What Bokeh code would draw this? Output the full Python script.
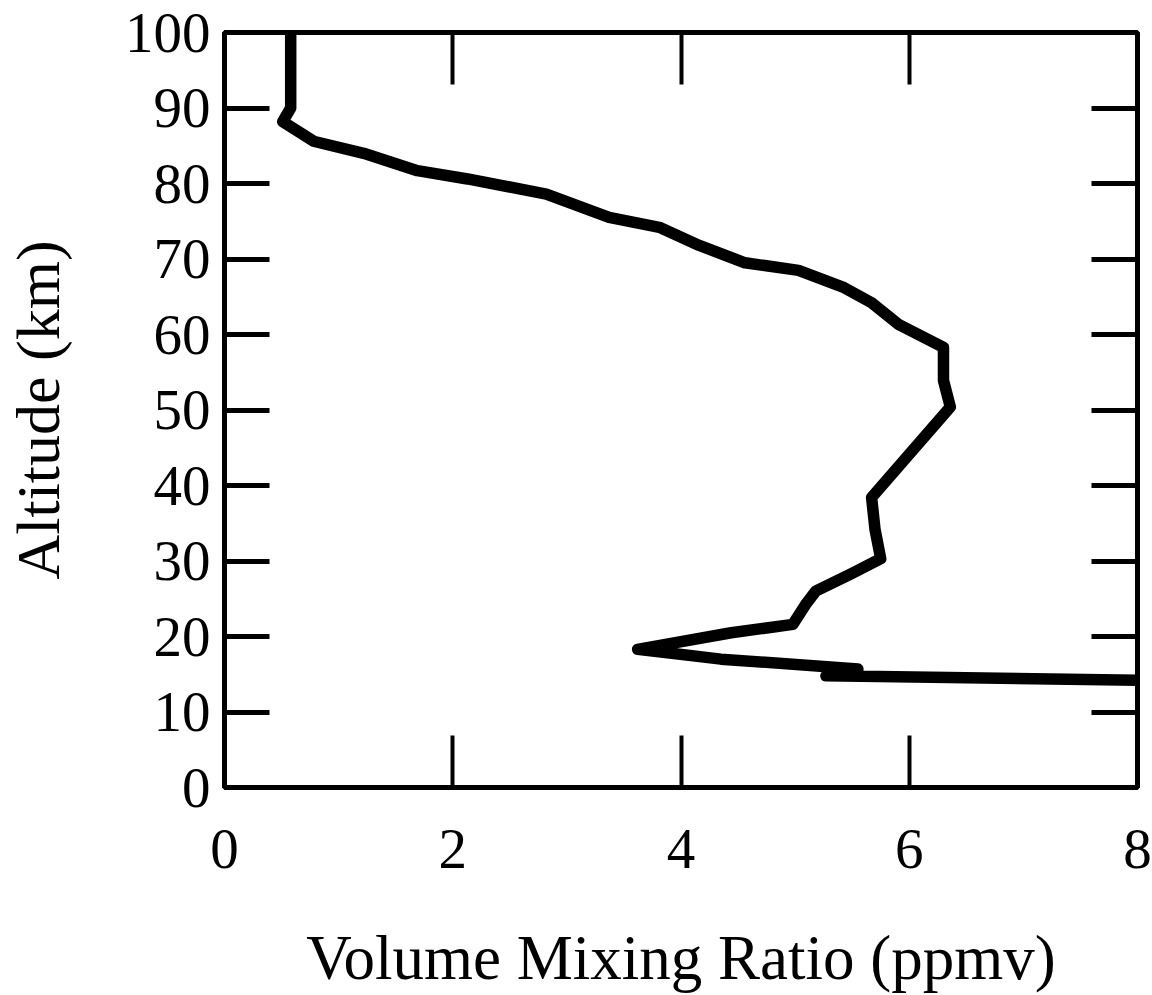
from bokeh.plotting import figure
from bokeh.models import Range1d, LinearAxis, FixedTicker
from bokeh.embed import file_html
from bokeh.resources import INLINE

# Data (volume mixing ratio in ppmv vs altitude in km)
vmr = [0.58, 0.58, 0.51, 0.78, 1.22, 1.69, 2.13, 2.82, 3.37, 3.81, 4.16, 4.56,
       5.03, 5.43, 5.67, 5.91, 6.30, 6.30, 6.36, 5.67, 5.70, 5.75, 5.49, 5.18,
       5.09, 4.98, 4.44, 3.62, 4.35, 5.55, 5.27, 8.0]
alt = [100, 90, 88.2, 85.6, 84.0, 81.7, 80.6, 78.6, 75.5, 74.2, 71.8, 69.5,
       68.5, 66.2, 64.2, 61.3, 58.3, 53.9, 50.4, 38.4, 34.2, 30.3, 28.3, 26.0,
       24.2, 21.6, 20.5, 18.3, 17.0, 15.7, 14.8, 14.2]

x_ticks = [0, 2, 4, 6, 8]
y_ticks = [0, 10, 20, 30, 40, 50, 60, 70, 80, 90, 100]

FONT = "Liberation Serif"

p = figure(width=1152, height=995, output_backend="svg", toolbar_location=None,
           x_range=Range1d(0, 8), y_range=Range1d(0, 100),
           min_border_left=224, min_border_right=15, min_border_top=32,
           min_border_bottom=207, x_axis_label="Volume Mixing Ratio (ppmv)",
           y_axis_label="Altitude (km)")
p.grid.visible = False
p.outline_line_color = "black"
p.outline_line_width = 5
p.background_fill_color = "white"
p.border_fill_color = "white"

p.line(vmr, alt, line_color="black", line_width=11.5, line_join="round", line_cap="round")

# bottom axis
xa = p.xaxis[0]
xa.ticker = FixedTicker(ticks=x_ticks)
# left axis
ya = p.yaxis[0]
ya.ticker = FixedTicker(ticks=y_ticks)

for ax in (xa, ya):
    ax.axis_line_color = None
    ax.major_tick_out = 0
    ax.minor_tick_line_color = None
    ax.major_label_text_font = FONT
    ax.major_label_text_font_size = "57px"
    ax.major_label_text_color = "black"
    ax.axis_label_text_font = FONT
    ax.axis_label_text_font_style = "normal"
    ax.axis_label_text_color = "black"
    ax.major_tick_line_color = "black"

xa.axis_label_text_font_size = "63px"
ya.axis_label_text_font_size = "62px"
xa.major_tick_in = 52
xa.major_tick_line_width = 4
xa.major_label_standoff = 42
xa.axis_label_standoff = 52
ya.major_tick_in = 45
ya.major_tick_line_width = 5
ya.major_label_standoff = 14
ya.axis_label_standoff = 50

# top and right axes: inward ticks only, no labels drawn
top = LinearAxis(ticker=FixedTicker(ticks=[2, 4, 6]), major_label_text_color=None,
                 axis_line_color=None, major_tick_in=52, major_tick_out=0,
                 major_tick_line_width=4, minor_tick_line_color=None,
                 major_label_standoff=0)
right = LinearAxis(ticker=FixedTicker(ticks=y_ticks[1:-1]), major_label_text_color=None,
                   axis_line_color=None, major_tick_in=46, major_tick_out=0,
                   major_tick_line_width=5, minor_tick_line_color=None,
                   major_label_standoff=0)
p.add_layout(top, "above")
p.add_layout(right, "right")

open("out.html", "w").write(file_html(p, INLINE))
